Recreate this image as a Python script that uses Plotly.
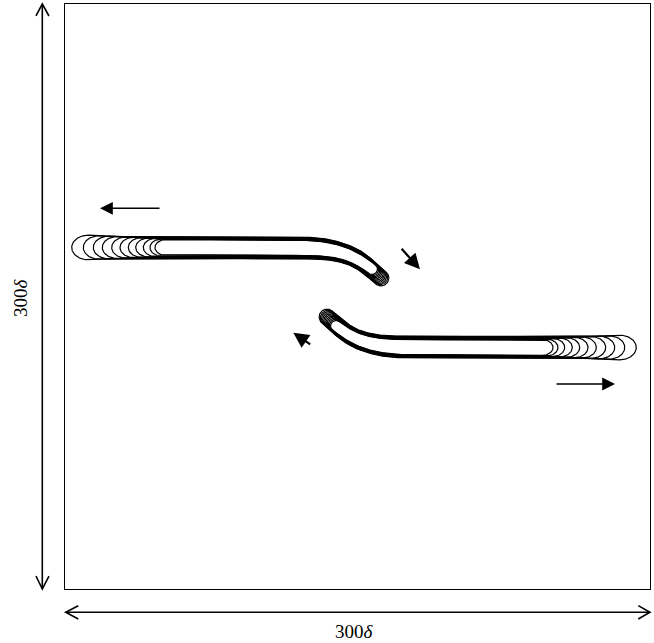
import numpy as np
import plotly.graph_objects as go

# Upper (left-moving) finger, one outline per snapshot, earliest first.
# Lengths in units of delta; the box is 300 x 300.
tip_x = [46.15, 43.59, 40.15, 36.26, 32.46, 28.21, 23.95, 19.13, 14.51, 9.38, 3.44]
bulb_r = [4.0, 4.3, 4.6, 4.8, 5.0, 5.2, 5.4, 5.6, 5.8, 6.0, 6.3]
body_w = [3.9, 4.05, 4.2, 4.35, 4.5, 4.7, 4.85, 5.0, 5.2, 5.4, 5.6]
end_x = [157.44, 157.90, 158.36, 158.82, 159.28, 159.74, 160.21, 160.67, 161.13, 161.59, 162.05]
end_y = [164.10, 163.64, 163.18, 162.72, 162.26, 161.79, 161.33, 160.87, 160.41, 159.95, 159.49]

# Shared centreline of the finger body and its bend towards the centre
axis_y = 175.13
bend_x = [123.08, 135.90, 146.15, 153.33]
bend_y = [175.13, 174.10, 171.28, 167.18]

# The lower finger is the point reflection of the upper one about this centre
centre_x, centre_y = 148.21, 149.49

# Flow-direction arrows: (tail x, tail y, head x, head y)
arrow_tail_x = [48.72, 172.40, 126.00, 251.79]
arrow_tail_y = [195.23, 174.70, 125.30, 105.13]
arrow_head_x = [17.95, 182.05, 117.08, 282.05]
arrow_head_y = [195.23, 163.95, 131.44, 105.13]
arrow_width = [1.6, 2.2, 2.2, 1.6]
arrow_size = [1.6, 1.4, 1.4, 1.6]

box_label = "300<i>δ</i>"


def chaikin(px, py, n_iter=5):
    p = np.column_stack([px, py]).astype(float)
    for _ in range(n_iter):
        q = 0.75 * p[:-1] + 0.25 * p[1:]
        r = 0.25 * p[:-1] + 0.75 * p[1:]
        mid = np.empty((2 * len(q), 2))
        mid[0::2] = q
        mid[1::2] = r
        p = np.vstack([p[:1], mid[1:-1], p[-1:]])
    return p[:, 0], p[:, 1]


def resample(x, y, n=500):
    d = np.hypot(np.diff(x), np.diff(y))
    s = np.concatenate([[0], np.cumsum(d)])
    t = np.linspace(0, s[-1], n)
    return np.interp(t, s, x), np.interp(t, s, y), t


def smooth(u):
    u = np.clip(u, 0, 1)
    return u * u * (3 - 2 * u)


def outline(k):
    a = 1.35 * bulb_r[k]
    xb = tip_x[k] + a
    cx = [xb] + bend_x + [end_x[k]]
    cy = [axis_y] + bend_y + [end_y[k]]
    sx, sy = chaikin(cx, cy)
    x, y, s = resample(sx, sy)
    tx, ty = np.gradient(x), np.gradient(y)
    nrm = np.hypot(tx, ty)
    tx, ty = tx / nrm, ty / nrm
    nx, ny = -ty, tx

    L = s[-1]
    lb = 2.5 * bulb_r[k]
    w = bulb_r[k] + (body_w[k] - bulb_r[k]) * smooth(s / lb)
    i0 = np.argmax(x >= 120)
    s0 = s[i0]
    w = w * (1 - 0.28 * smooth((s - s0) / (L - s0)))

    top_x, top_y = x + nx * w, y + ny * w
    bot_x, bot_y = x - nx * w, y - ny * w

    we = w[-1]
    phi = np.linspace(0, np.pi, 40)
    cap_x = x[-1] + we * (np.cos(phi) * nx[-1] + np.sin(phi) * tx[-1])
    cap_y = y[-1] + we * (np.cos(phi) * ny[-1] + np.sin(phi) * ty[-1])

    th = np.linspace(1.5 * np.pi, 0.5 * np.pi, 60)
    lc_x = xb + a * np.cos(th)
    lc_y = axis_y + bulb_r[k] * np.sin(th)

    ox = np.concatenate([top_x, cap_x, bot_x[::-1], lc_x])
    oy = np.concatenate([top_y, cap_y, bot_y[::-1], lc_y])
    return ox, oy


fig = go.Figure()
for k in range(len(tip_x)):
    ox, oy = outline(k)
    for xs, ys in ((ox, oy), (2 * centre_x - ox, 2 * centre_y - oy)):
        fig.add_trace(go.Scatter(
            x=xs, y=ys, mode="lines",
            line=dict(color="black", width=1.2),
            hoverinfo="skip", showlegend=False,
        ))

annotations = []
for tx0, ty0, hx, hy, aw, asz in zip(arrow_tail_x, arrow_tail_y, arrow_head_x,
                                     arrow_head_y, arrow_width, arrow_size):
    annotations.append(dict(
        x=hx, y=hy, ax=tx0, ay=ty0, xref="x", yref="y", axref="x", ayref="y",
        text="", font=dict(size=1), borderpad=0, showarrow=True,
        arrowhead=2, arrowsize=asz, arrowwidth=aw, arrowcolor="black",
    ))

label_font = dict(family="Liberation Serif, DejaVu Serif, serif", size=19, color="black")
annotations.append(dict(x=0.4957, y=-0.0735, xref="paper", yref="paper",
                        text=box_label, showarrow=False, font=label_font,
                        xanchor="center", yanchor="middle"))
annotations.append(dict(x=-0.0769, y=0.4974, xref="paper", yref="paper",
                        text=box_label, showarrow=False, font=label_font,
                        textangle=-90, xanchor="center", yanchor="middle"))

# Double-headed dimension arrows outside the box (paper coordinates)
line_style = dict(color="black", width=1.6)
vx, hy_ = -0.0388, -0.0398
shapes = [
    dict(type="line", xref="paper", yref="paper", x0=vx, x1=vx, y0=0.0, y1=1.0, line=line_style),
    dict(type="path", xref="paper", yref="paper",
         path=f"M{vx - 0.0108},0.9795 L{vx},1.0 L{vx + 0.0114},0.9795", line=line_style),
    dict(type="path", xref="paper", yref="paper",
         path=f"M{vx - 0.0108},0.0222 L{vx},0.0 L{vx + 0.0114},0.0222", line=line_style),
    dict(type="line", xref="paper", yref="paper", x0=0.0012, x1=1.0, y0=hy_, y1=hy_, line=line_style),
    dict(type="path", xref="paper", yref="paper",
         path=f"M0.0227,{hy_ + 0.0113} L0.0012,{hy_} L0.0227,{hy_ - 0.0115}", line=line_style),
    dict(type="path", xref="paper", yref="paper",
         path=f"M0.98,{hy_ + 0.0113} L1.0,{hy_} L0.98,{hy_ - 0.0115}", line=line_style),
]

axis_common = dict(range=[0, 300], showticklabels=False, ticks="", showgrid=False,
                   zeroline=False, showline=True, mirror=True, linecolor="black",
                   linewidth=1.2, fixedrange=True)

fig.update_layout(
    width=654, height=643,
    margin=dict(l=65, r=4, t=4, b=54),
    paper_bgcolor="white", plot_bgcolor="white",
    xaxis=axis_common, yaxis=axis_common,
    annotations=annotations, shapes=shapes,
    showlegend=False,
)

fig.write_html("out.html")
